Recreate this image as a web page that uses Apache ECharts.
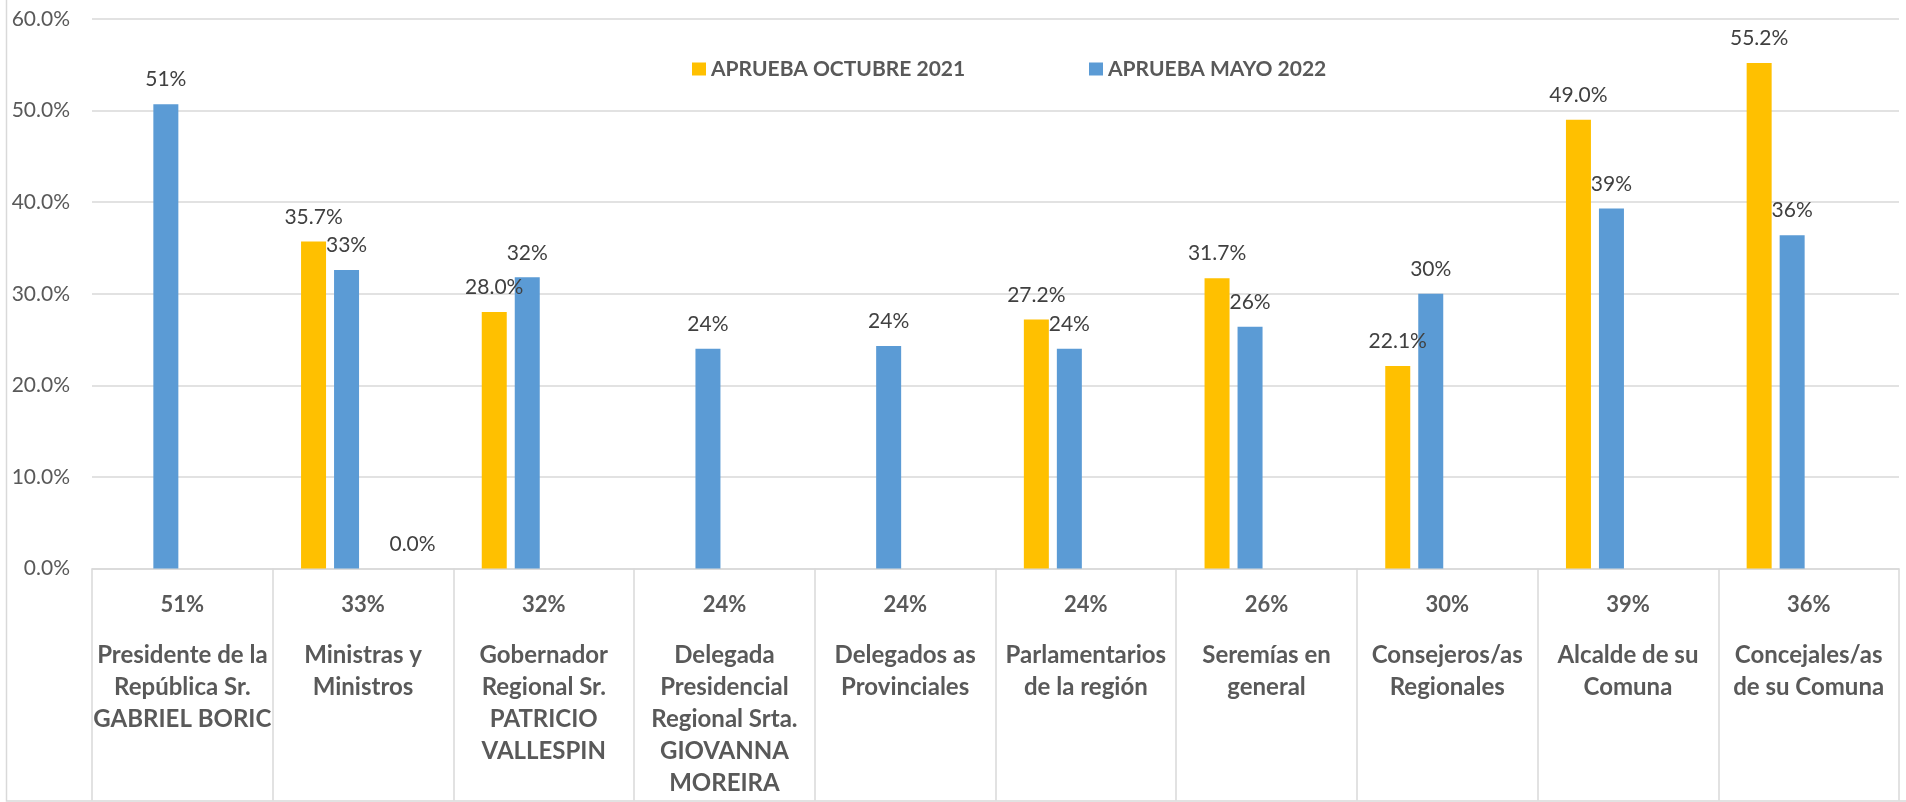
<!DOCTYPE html>
<html>
<head>
<meta charset="utf-8">
<script src="https://cdn.jsdelivr.net/npm/echarts@6/dist/echarts.min.js"></script>
<style>
html,body{margin:0;padding:0;background:#fff;}
#chart{width:1906px;height:802px;}
</style>
</head>
<body>
<div id="chart"></div>
<script>
const categories = [
  'Presidente de la\nRepública Sr.\nGABRIEL BORIC',
  'Ministras y\nMinistros',
  'Gobernador\nRegional Sr.\nPATRICIO\nVALLESPIN',
  'Delegada\nPresidencial\nRegional Srta.\nGIOVANNA\nMOREIRA',
  'Delegados as\nProvinciales',
  'Parlamentarios\nde la región',
  'Seremías en\ngeneral',
  'Consejeros/as\nRegionales',
  'Alcalde de su\nComuna',
  'Concejales/as\nde su Comuna'
];
const seriesNames = ['APRUEBA OCTUBRE 2021', 'APRUEBA MAYO 2022', 'Serie 3', 'Serie 4'];
const octubre2021 = [null, 35.7, 28.0, null, null, 27.2, 31.7, 22.1, 49.0, 55.2];
const mayo2022 = [50.7, 32.6, 31.8, 24.0, 24.3, 24.0, 26.4, 30.0, 39.3, 36.4];
const serie3 = [null, null, null, null, null, null, null, null, null, null];
const serie4 = [null, 0.0, null, null, null, null, null, null, null, null];
const yMin = 0, yMax = 60, yStep = 10;

const FONT = 'Lato';
const FS = 21;
const chart = echarts.init(document.getElementById('chart'), null, {renderer: 'canvas'});

const labelBase = {
  show: true, position: 'top', distance: 14, color: '#404040',
  fontFamily: FONT, fontSize: FS, lineHeight: 21
};

chart.setOption({
  animation: false,
  backgroundColor: '#ffffff',
  textStyle: {fontFamily: FONT},
  graphic: [{
    type: 'rect', silent: true, z: -10,
    shape: {x: 6.5, y: -10, width: 1920, height: 811},
    style: {fill: 'none', stroke: '#d9d9d9', lineWidth: 1.5}
  }],
  grid: {left: 92, right: 7, top: 19, bottom: 233.5, containLabel: false},
  legend: [{
    data: [seriesNames[0]], left: 692, top: 58, padding: 0,
    itemWidth: 14, itemHeight: 13, icon: 'rect',
    textStyle: {fontFamily: FONT, fontSize: FS, fontWeight: 'bold', color: '#595959', lineHeight: 22}
  }, {
    data: [seriesNames[1]], left: 1089, top: 58, padding: 0,
    itemWidth: 14, itemHeight: 13, icon: 'rect',
    textStyle: {fontFamily: FONT, fontSize: FS, fontWeight: 'bold', color: '#595959', lineHeight: 22}
  }],
  xAxis: {
    type: 'category',
    data: categories,
    axisLine: {show: true, lineStyle: {color: '#d9d9d9', width: 1.5}},
    axisTick: {show: true, length: 232, interval: 0, lineStyle: {color: '#d9d9d9', width: 1.5}},
    axisLabel: {
      interval: 0, margin: 1,
      formatter: function (value, index) {
        return '{p|' + Math.round(mayo2022[index]) + '%}\n{t|' + value + '}';
      },
      rich: {
        p: {fontFamily: FONT, fontSize: 22, fontWeight: 'bold', color: '#595959', lineHeight: 70, align: 'center'},
        t: {fontFamily: FONT, fontSize: 24, fontWeight: 'bold', color: '#595959', lineHeight: 32, align: 'center'}
      }
    }
  },
  yAxis: {
    type: 'value', min: yMin, max: yMax, interval: yStep,
    axisLine: {show: false}, axisTick: {show: false},
    splitLine: {show: true, lineStyle: {color: '#d9d9d9', width: 1.5}},
    axisLabel: {
      margin: 22, color: '#595959', fontFamily: FONT, fontSize: FS,
      formatter: function (v) { return v.toFixed(1) + '%'; }
    }
  },
  series: [{
    name: seriesNames[0], type: 'bar', data: octubre2021,
    barWidth: 25, barGap: '32%',
    itemStyle: {color: '#FFC000'},
    label: Object.assign({}, labelBase, {formatter: function (p) { return p.value.toFixed(1) + '%'; }})
  }, {
    name: seriesNames[1], type: 'bar', data: mayo2022,
    barWidth: 25, barGap: '32%',
    itemStyle: {color: '#5B9BD5'},
    label: Object.assign({}, labelBase, {formatter: function (p) { return Math.round(p.value) + '%'; }})
  }, {
    name: seriesNames[2], type: 'bar', data: serie3,
    barWidth: 25, barGap: '32%',
    itemStyle: {color: '#A5A5A5'},
    label: Object.assign({}, labelBase, {formatter: function (p) { return p.value.toFixed(1) + '%'; }})
  }, {
    name: seriesNames[3], type: 'bar', data: serie4,
    barWidth: 25, barGap: '32%',
    itemStyle: {color: '#ED7D31'},
    label: Object.assign({}, labelBase, {formatter: function (p) { return p.value.toFixed(1) + '%'; }})
  }]
});
</script>
</body>
</html>
